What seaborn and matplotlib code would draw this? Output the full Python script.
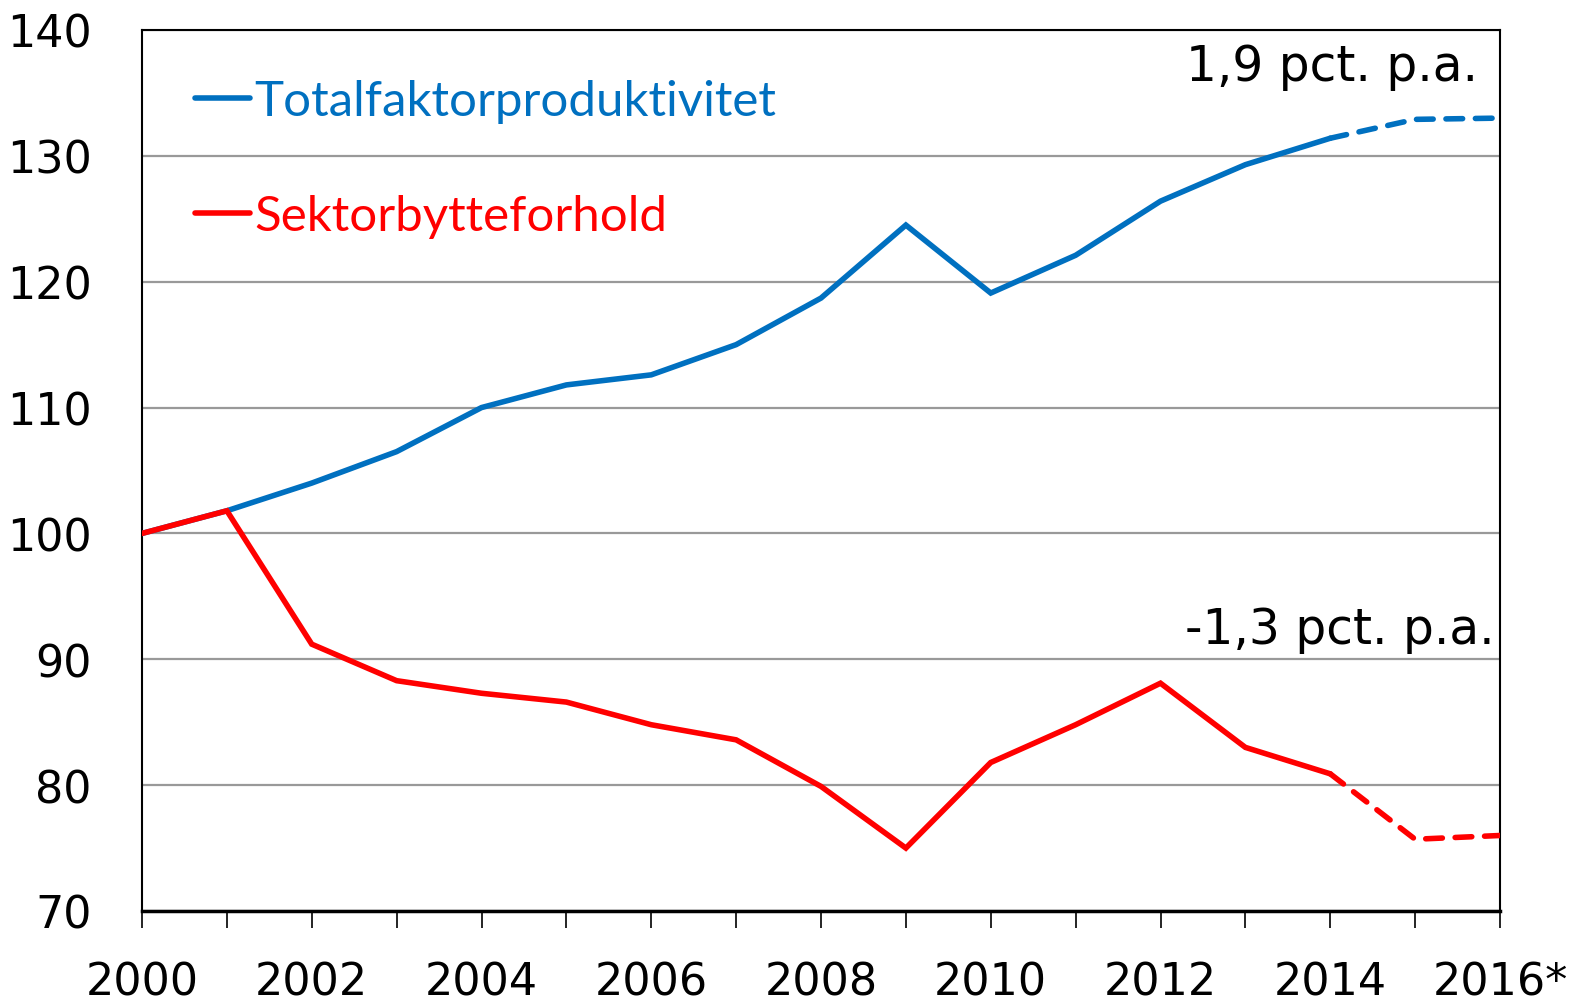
import matplotlib
matplotlib.use("Agg")
import matplotlib.pyplot as plt
import seaborn as sns
import pandas as pd
from matplotlib.lines import Line2D

years = list(range(2000, 2017))
tfp = [100.0, 101.8, 104.0, 106.5, 110.0, 111.8, 112.6, 115.0, 118.7, 124.5,
       119.1, 122.1, 126.4, 129.3, 131.4, 132.9, 133.0]
tot = [100.0, 101.8, 91.2, 88.3, 87.3, 86.6, 84.8, 83.6, 79.9, 75.0,
       81.8, 84.8, 88.1, 83.0, 80.9, 75.7, 76.0]
series_names = ["Totalfaktorproduktivitet", "Sektorbytteforhold"]
xtick_years = [2000, 2002, 2004, 2006, 2008, 2010, 2012, 2014, 2016]
xtick_labels = ["2000", "2002", "2004", "2006", "2008", "2010", "2012", "2014", "2016*"]
yticks = [70, 80, 90, 100, 110, 120, 130, 140]
annot_tfp = "1,9 pct. p.a."
annot_tot = "-1,3 pct. p.a."
last_actual = 2014

blue = "#0070C0"
red = "#FF0000"
LW = 4.0

sns.set_style("white")
plt.rcParams['font.family'] = ['DejaVu Sans']
plt.rcParams['text.color'] = 'black'
plt.rcParams['xtick.color'] = 'black'
plt.rcParams['ytick.color'] = 'black'

df = pd.DataFrame({"year": years * 2,
                   "value": tfp + tot,
                   "series": [series_names[0]] * len(years) + [series_names[1]] * len(years)})
solid = df[df.year <= last_actual]
dashed = df[df.year >= last_actual]
palette = {series_names[0]: blue, series_names[1]: red}

fig = plt.figure(figsize=(15.70, 10.03), dpi=100)
ax = fig.add_axes([142 / 1570, 1 - 912 / 1003, (1500 - 142) / 1570, (912 - 31) / 1003])

sns.lineplot(data=solid, x="year", y="value", hue="series", palette=palette,
             linewidth=LW, ax=ax, legend=False, zorder=3)
sns.lineplot(data=dashed, x="year", y="value", hue="series", palette=palette,
             linewidth=LW, ax=ax, legend=False, zorder=3)
lines = ax.get_lines()
for ln in lines:
    ln.set_linewidth(LW)
for ln in lines[2:]:
    ln.set_dashes([3.0, 2.3])
    ln.set_dash_capstyle("round")
for ln in lines[:2]:
    ln.set_solid_capstyle("round")
    ln.set_solid_joinstyle("miter")

ax.set_xlim(2000, 2016)
ax.set_ylim(70, 140)
ax.set_yticks(yticks)
ax.set_yticklabels([str(v) for v in yticks])
ax.set_xticks(years, minor=False)
ax.set_xticklabels([xtick_labels[xtick_years.index(y)] if y in xtick_years else "" for y in years])
ax.set_xlabel("")
ax.set_ylabel("")
ax.yaxis.grid(True, color="#999999", linewidth=1.6)
ax.xaxis.grid(False)
ax.set_axisbelow(True)
for s in ax.spines.values():
    s.set_color("black")
    s.set_linewidth(1.5)
    s.set_visible(True)
ax.spines["bottom"].set_linewidth(2.5)
ax.tick_params(axis="x", direction="out", length=12, width=1.2, color="black",
               pad=24, labelsize=32, bottom=True, labelcolor="black")
ax.tick_params(axis="y", length=0, pad=36, labelsize=32, left=False, labelcolor="black")

ax.text(2015.74, 136.0, annot_tfp, ha="right", va="baseline", fontsize=35, color="black")
ax.text(2015.94, 91.27, annot_tot, ha="right", va="baseline", fontsize=35, color="black")

handles = [Line2D([], [], color=blue, linewidth=LW, solid_capstyle="round"),
           Line2D([], [], color=red, linewidth=LW, solid_capstyle="round")]
leg = ax.legend(handles, series_names, loc="upper left", bbox_to_anchor=(0.006, 0.995),
                frameon=False, handlelength=1.12, handletextpad=0.1, labelspacing=1.45,
                prop={"family": "Lato", "size": 35.5})
for t, c in zip(leg.get_texts(), [blue, red]):
    t.set_color(c)

fig.savefig("out.png", dpi=100)
